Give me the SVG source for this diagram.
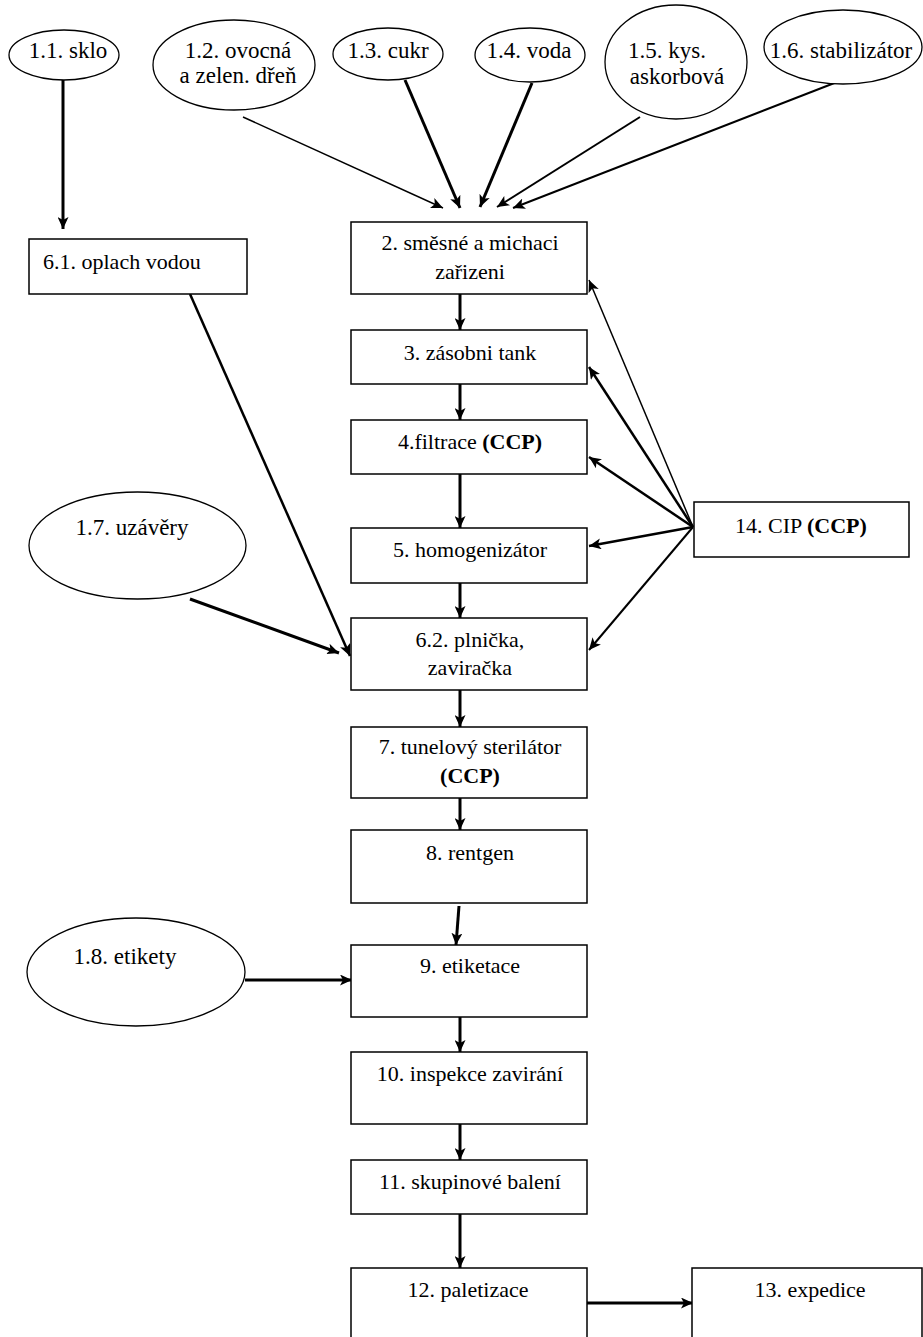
<svg xmlns="http://www.w3.org/2000/svg" width="923" height="1337" viewBox="0 0 923 1337" font-family="Liberation Serif, DejaVu Serif, serif">
<style>
text{font-size:22px;fill:#000}
.e{font-size:23px}
.c{text-anchor:middle}
.b{font-weight:bold}
.box{fill:#fff;stroke:#000;stroke-width:1.5}
.ell{fill:#fff;stroke:#000;stroke-width:1.3}
.a{fill:none;stroke:#000;marker-end:url(#ah)}
.w3{stroke-width:3}
.w25{stroke-width:2.5}
.w2{stroke-width:2}
.w15{stroke-width:1.5}
</style>
<defs>
<marker id="ah" markerUnits="userSpaceOnUse" markerWidth="13" markerHeight="11" refX="12" refY="5.5" orient="auto">
<path d="M0,0 L12,5.5 L0,11 L3,5.5 z" fill="#000"/>
</marker>
</defs>
<rect width="923" height="1337" fill="#fff"/>
<g id="connectors">
<path class="a w3" d="M63,80 L63,229"/>
<path class="a w15" d="M243,117 L443,208"/>
<path class="a w3" d="M405,80 L460,208"/>
<path class="a w3" d="M532,83 L480,207"/>
<path class="a w2" d="M640,117 L497,207"/>
<path class="a w2" d="M837,82 L513,208"/>
<path class="a w25" d="M190,294 L350,656"/>
<path class="a w3" d="M190,599 L339,653"/>
<path class="a w3" d="M460,294 L460,330"/>
<path class="a w3" d="M460,384 L460,420"/>
<path class="a w3" d="M460,474 L460,528"/>
<path class="a w3" d="M460,583 L460,618"/>
<path class="a w3" d="M460,690 L460,727"/>
<path class="a w3" d="M460,798 L460,830"/>
<path class="a w3" d="M459,906 L456,945"/>
<path class="a w3" d="M460,1017 L460,1052"/>
<path class="a w3" d="M460,1124 L460,1160"/>
<path class="a w3" d="M460,1214 L460,1268"/>
<path class="a w3" d="M245,980 L352,980"/>
<path class="a w3" d="M587,1303 L693,1303"/>
<path class="a w15" d="M693,527 L589,280"/>
<path class="a w25" d="M693,527 L589,367"/>
<path class="a w25" d="M693,527 L589,457"/>
<path class="a w25" d="M693,527 L589,546"/>
<path class="a w2" d="M693,527 L589,650"/>
</g>
<g id="n1_1"><ellipse class="ell" cx="64" cy="55" rx="55" ry="25"/><text class="c e" x="68" y="58">1.1. sklo</text></g>
<g id="n1_2"><ellipse class="ell" cx="234" cy="65" rx="81" ry="45"/><text class="c e" x="238" y="58">1.2. ovocná</text><text class="c e" x="238" y="83">a zelen. dřeň</text></g>
<g id="n1_3"><ellipse class="ell" cx="388" cy="54" rx="55" ry="26"/><text class="c e" x="388" y="58">1.3. cukr</text></g>
<g id="n1_4"><ellipse class="ell" cx="530" cy="55" rx="55" ry="27"/><text class="c e" x="529" y="58">1.4. voda</text></g>
<g id="n1_5"><ellipse class="ell" cx="676" cy="62" rx="71" ry="57"/><text class="c e" x="667" y="58">1.5. kys.</text><text class="c e" x="677" y="84">askorbová</text></g>
<g id="n1_6"><ellipse class="ell" cx="843" cy="47" rx="79" ry="37"/><text class="c e" x="841" y="58">1.6. stabilizátor</text></g>
<g id="n6_1"><rect class="box" x="29" y="239" width="218" height="55"/><text x="43" y="269">6.1. oplach vodou</text></g>
<g id="n2"><rect class="box" x="351" y="222" width="236" height="72"/><text class="c" x="470" y="250">2. směsné a michaci</text><text class="c" x="470" y="279">zařizeni</text></g>
<g id="n3"><rect class="box" x="351" y="330" width="236" height="54"/><text class="c" x="470" y="360">3. zásobni tank</text></g>
<g id="n4"><rect class="box" x="351" y="420" width="236" height="54"/><text class="c" x="470" y="449">4.filtrace <tspan class="b">(CCP)</tspan></text></g>
<g id="n5"><rect class="box" x="351" y="528" width="236" height="55"/><text class="c" x="470" y="557">5. homogenizátor</text></g>
<g id="n6_2"><rect class="box" x="351" y="618" width="236" height="72"/><text class="c" x="470" y="647">6.2. plnička,</text><text class="c" x="470" y="675">zaviračka</text></g>
<g id="n7"><rect class="box" x="351" y="727" width="236" height="71"/><text class="c" x="470" y="754">7. tunelový sterilátor</text><text class="c b" x="470" y="783">(CCP)</text></g>
<g id="n8"><rect class="box" x="351" y="830" width="236" height="73"/><text class="c" x="470" y="860">8. rentgen</text></g>
<g id="n9"><rect class="box" x="351" y="945" width="236" height="72"/><text class="c" x="470" y="973">9. etiketace</text></g>
<g id="n10"><rect class="box" x="351" y="1052" width="236" height="72"/><text class="c" x="470" y="1081">10. inspekce zavirání</text></g>
<g id="n11"><rect class="box" x="351" y="1160" width="236" height="54"/><text class="c" x="470" y="1189">11. skupinové balení</text></g>
<g id="n12"><rect class="box" x="351" y="1268" width="236" height="80"/><text class="c" x="468" y="1297">12. paletizace</text></g>
<g id="n13"><rect class="box" x="692" y="1268" width="230" height="80"/><text class="c" x="810" y="1297">13. expedice</text></g>
<g id="n14"><rect class="box" x="694" y="502" width="215" height="55"/><text class="c" x="801" y="533">14. CIP <tspan class="b">(CCP)</tspan></text></g>
<g id="n1_7"><ellipse class="ell" cx="137.5" cy="545.5" rx="108.5" ry="53.5"/><text class="c e" x="132" y="535">1.7. uzávěry</text></g>
<g id="n1_8"><ellipse class="ell" cx="136" cy="972" rx="109" ry="54"/><text class="c e" x="125" y="964">1.8. etikety</text></g>
</svg>
